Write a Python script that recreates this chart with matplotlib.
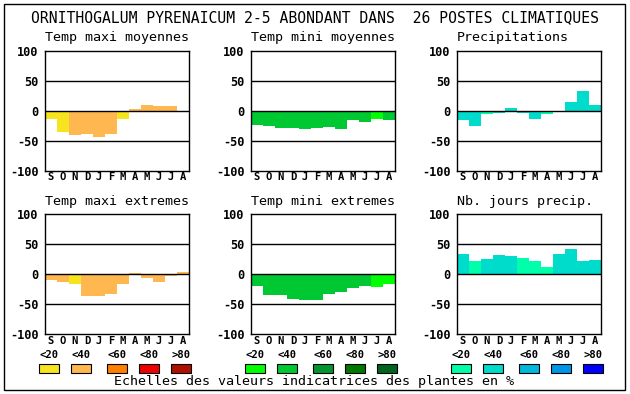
import matplotlib
matplotlib.use("Agg")
import matplotlib.pyplot as plt
from matplotlib.patches import Rectangle

W, H = 630, 394
MONO = "DejaVu Sans Mono"

title = "ORNITHOGALUM PYRENAICUM 2-5 ABONDANT DANS  26 POSTES CLIMATIQUES"
months = ["S", "O", "N", "D", "J", "F", "M", "A", "M", "J", "J", "A"]
yticks = [100, 50, 0, -50, -100]
legend_labels = ["<20", "<40", "<60", "<80", ">80"]
footer = "Echelles des valeurs indicatrices des plantes en %"

# colour scales (classes <20, <40, <60, <80, >80)
scale_warm = ["#f7e41e", "#ffb84f", "#ff7f00", "#ee0000", "#b01000"]
scale_green = ["#00ff00", "#00c832", "#00962d", "#007800", "#006420"]
scale_blue = ["#00ffaa", "#00dccc", "#00b8dc", "#0096e6", "#0000ff"]

panel_titles = ["Temp maxi moyennes", "Temp mini moyennes", "Precipitations",
                "Temp maxi extremes", "Temp mini extremes", "Nb. jours precip."]

tmax_moy = [-14, -36, -41, -38, -43, -38, -14, 3, 10, 7, 7, 0]
tmax_moy_cls = [0, 0, 1, 1, 1, 1, 0, 1, 1, 1, 1, 1]
tmin_moy = [-24, -26, -28, -28, -31, -28, -27, -31, -16, -18, -14, -16]
tmin_moy_cls = [1, 1, 1, 1, 1, 1, 1, 1, 1, 1, 0, 1]
precip = [-16, -26, -6, -4, 5, -4, -14, -6, 0, 15, 32, 10]
precip_cls = [1, 1, 0, 1, 1, 1, 1, 0, 1, 1, 1, 1]
tmax_ext = [-10, -14, -16, -37, -36, -34, -16, 2, -7, -14, -4, 4]
tmax_ext_cls = [1, 1, 0, 1, 1, 1, 1, 1, 1, 1, 1, 1]
tmin_ext = [-20, -35, -35, -42, -44, -44, -33, -30, -23, -20, -22, -17]
tmin_ext_cls = [1, 1, 1, 1, 1, 1, 1, 1, 1, 1, 0, 0]
nb_jours = [34, 22, 25, 32, 30, 27, 22, 11, 34, 42, 21, 24]
nb_jours_cls = [1, 0, 1, 1, 1, 0, 0, 0, 1, 1, 1, 1]

panels = [
    (tmax_moy, tmax_moy_cls, scale_warm),
    (tmin_moy, tmin_moy_cls, scale_green),
    (precip, precip_cls, scale_blue),
    (tmax_ext, tmax_ext_cls, scale_warm),
    (tmin_ext, tmin_ext_cls, scale_green),
    (nb_jours, nb_jours_cls, scale_blue),
]

fig = plt.figure(figsize=(W / 100, H / 100), dpi=100)
fig.patch.set_facecolor("white")


def fx(x):
    return x / W


def fy(y):
    return 1 - y / H


# outer frame
fig.patches.append(Rectangle((fx(4), fy(390)), fx(621), (386) / H,
                             transform=fig.transFigure, fill=False,
                             edgecolor="black", linewidth=1.0))

fig.text(fx(315), fy(18), title, ha="center", va="center",
         family=MONO, fontsize=10.6)

col_left = [45, 251, 457]
row_top = [50.7, 214]
aw, ah = 144, 120

for i, (vals, cls, scale) in enumerate(panels):
    r, c = divmod(i, 3)
    ax = fig.add_axes([fx(col_left[c]), fy(row_top[r] + ah), aw / W, ah / H])
    ax.bar(range(12), vals, width=1.0, color=[scale[k] for k in cls],
           linewidth=0, zorder=1)
    for g in (50, 0, -50):
        ax.axhline(g, color="black", linewidth=1.0, zorder=3)
    ax.set_xlim(-0.5, 11.5)
    ax.set_ylim(-100, 100)
    ax.set_yticks(yticks)
    ax.set_yticklabels([str(t) for t in yticks], family=MONO,
                       fontweight="bold", fontsize=8.6)
    ax.set_xticks(range(12))
    ax.set_xticklabels(months, family=MONO, fontweight="bold", fontsize=7.6)
    ax.tick_params(length=0)
    ax.tick_params(axis="x", pad=1.2)
    ax.tick_params(axis="y", pad=4.5)
    for s in ax.spines.values():
        s.set_linewidth(1.0)
        s.set_zorder(4)
    ax.annotate(panel_titles[i], xy=(0, 1), xycoords="axes fraction",
                xytext=(0, 9.3), textcoords="offset points",
                ha="left", va="center", family=MONO, fontsize=9.6)

# legends
box_offsets = [39, 71, 107, 139, 171]
group_shift = [0, 206, 412]
scales = [scale_warm, scale_green, scale_blue]
for g, sc in zip(group_shift, scales):
    for off, lab, col in zip(box_offsets, legend_labels, sc):
        x0 = off + g
        fig.text(fx(x0 + 10.5), fy(355), lab, ha="center", va="center",
                 family=MONO, fontweight="bold", fontsize=7.6)
        fig.patches.append(Rectangle((fx(x0), fy(373)), 20 / W, 9 / H,
                                     transform=fig.transFigure,
                                     facecolor=col, edgecolor="black",
                                     linewidth=0.8))

fig.text(fx(314), fy(382), footer, ha="center", va="center",
         family=MONO, fontsize=9.6)

fig.savefig("out.png", dpi=100, facecolor="white")
